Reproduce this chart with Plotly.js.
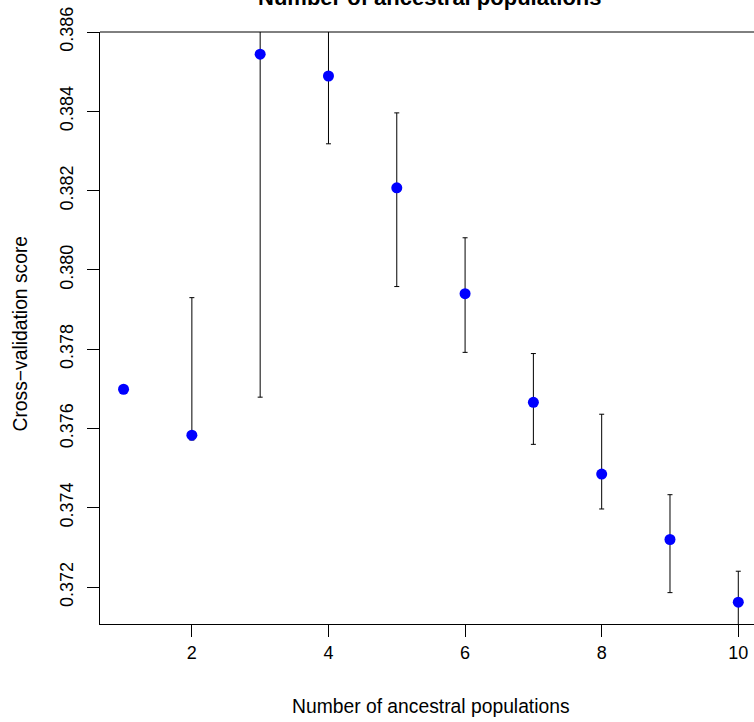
<!DOCTYPE html>
<html>
<head>
<meta charset="utf-8">
<script src="https://cdn.plot.ly/plotly-3.0.1.min.js"></script>
<style>html,body{margin:0;padding:0;background:#fff;}#chart{width:754px;height:722px;}</style>
</head>
<body>
<div id="chart"></div>
<script>
const populations = [1, 2, 3, 4, 5, 6, 7, 8, 9, 10];
const cvScore = [0.37699, 0.37583, 0.38544, 0.38489, 0.38207, 0.37940, 0.37666, 0.37485, 0.37320, 0.37162];
const cvUpper = [0.37699, 0.37930, 0.38700, 0.38680, 0.38396, 0.38081, 0.37789, 0.37636, 0.37433, 0.37240];
const cvLower = [0.37699, 0.37571, 0.37679, 0.38318, 0.37958, 0.37792, 0.37560, 0.37397, 0.37186, 0.37080];
const xTicks = [2, 4, 6, 8, 10];
const yTicks = [0.372, 0.374, 0.376, 0.378, 0.380, 0.382, 0.384, 0.386];

const plus = cvUpper.map((u, i) => u - cvScore[i]);
const minus = cvScore.map((v, i) => v - cvLower[i]);

const font = 'Liberation Sans, Arial, sans-serif';

const trace = {
  x: populations,
  y: cvScore,
  type: 'scatter',
  mode: 'markers',
  marker: {color: '#0000FF', size: 11},
  error_y: {type: 'data', symmetric: false, array: plus, arrayminus: minus,
            color: '#000000', thickness: 1, width: 2.5},
  hoverinfo: 'x+y'
};

const layout = {
  width: 754, height: 722,
  margin: {l: 100, r: 0, t: 32, b: 98, pad: 0},
  paper_bgcolor: '#ffffff', plot_bgcolor: '#ffffff',
  showlegend: false,
  font: {family: font, size: 18, color: '#000'},
  xaxis: {
    range: [0.655, 10.23], tickvals: xTicks, ticktext: xTicks.map(String),
    showgrid: false, zeroline: false, showline: true, linecolor: '#000', linewidth: 1,
    ticks: 'outside', ticklen: 12, tickcolor: '#000', tickwidth: 1,
    tickfont: {family: font, size: 18, color: '#000'}
  },
  yaxis: {
    range: [0.371069, 0.386], tickvals: yTicks, ticktext: yTicks.map(v => v.toFixed(3)),
    showgrid: false, zeroline: false, showline: true, linecolor: '#000', linewidth: 1,
    ticks: 'outside', ticklen: 12, tickcolor: '#000', tickwidth: 1, tickangle: -90,
    ticklabelstandoff: 7,
    tickfont: {family: font, size: 18, color: '#000'}
  },
  shapes: [{type: 'line', xref: 'paper', yref: 'paper', x0: 0, x1: 1, y0: 1, y1: 1,
            line: {color: '#000', width: 1}}],
  annotations: [
    {text: '<b>Number of ancestral populations</b>', xref: 'paper', yref: 'paper',
     x: 0.505, y: 1, xanchor: 'center', yanchor: 'middle', yshift: 35, showarrow: false,
     font: {family: font, size: 22, color: '#000'}},
    {text: 'Number of ancestral populations', xref: 'paper', yref: 'paper',
     x: 0.5054, y: 0, xanchor: 'center', yanchor: 'middle', yshift: -82, showarrow: false,
     font: {family: font, size: 19.3, color: '#000'}},
    {text: 'Cross\u2212validation score', xref: 'paper', yref: 'paper', textangle: -90,
     x: -0.1208, y: 0.4907, xanchor: 'center', yanchor: 'middle', showarrow: false,
     font: {family: font, size: 19.3, color: '#000'}}
  ]
};

Plotly.newPlot('chart', [trace], layout, {displayModeBar: false, staticPlot: true});
</script>
</body>
</html>
